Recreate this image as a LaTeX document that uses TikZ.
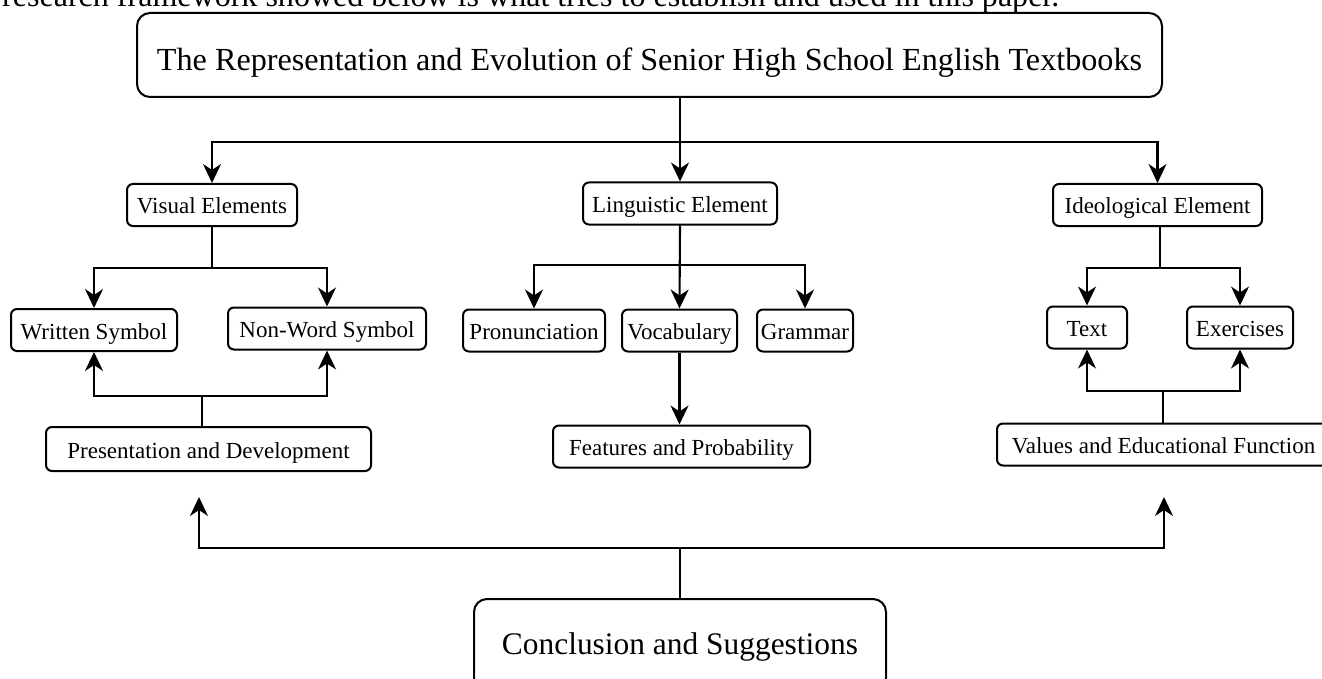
\documentclass[tikz,border=0pt]{standalone}
\usepackage{fontspec}
\setmainfont{Liberation Serif}
\usetikzlibrary{arrows.meta}
\tikzset{
  box/.style={draw, line width=2pt, rounded corners=6pt, inner sep=0pt,
    font=\fontsize{23}{27}\selectfont, minimum height=42pt,
    text height=19.5pt, text depth=1.5pt},
  bigbox/.style={draw, line width=2pt, rounded corners=13pt, inner sep=0pt},
  conn/.style={line width=2.1pt},
  arr/.style={conn, -{Stealth[length=19pt,width=18pt,inset=6pt]}},
}
\begin{document}
\begin{tikzpicture}[x=1pt,y=-1pt]
\useasboundingbox (0,0) rectangle (1322,679);
% partly visible line of running text
\node[anchor=base west, inner sep=0pt] (intro) at (2,7)
  {\resizebox{1057pt}{!}{research framework showed below is what tries to establish and used in this paper.}};
% nodes
\node[bigbox, minimum width=1025pt, minimum height=84pt, text height=32pt, text depth=0pt] (title) at (649.5,55)
  {\resizebox{985pt}{!}{The Representation and Evolution of Senior High School English Textbooks}};
\node[box, minimum width=170pt] (vis)  at (212,205)   {Visual Elements};
\node[box, minimum width=194pt] (ling) at (680,203.5) {Linguistic Element};
\node[box, minimum width=209pt] (ideo) at (1157.5,205) {Ideological Element};
\node[box, minimum width=166pt] (writ) at (94,330)    {Written Symbol};
\node[box, minimum width=198pt] (nonw) at (327,328.5) {Non-Word Symbol};
\node[box, minimum width=142pt] (pron) at (534,330.5) {Pronunciation};
\node[box, minimum width=115pt] (voc)  at (679.5,330.5) {Vocabulary};
\node[box, minimum width=96pt]  (gram) at (805,330.5) {Grammar};
\node[box, minimum width=80pt]  (txt)  at (1087,327.5) {Text};
\node[box, minimum width=106pt] (exer) at (1240,327.5) {Exercises};
\node[box, minimum width=325pt, minimum height=44pt] (pres) at (208.5,449) {Presentation and Development};
\node[box, minimum width=257pt] (feat) at (681.5,446.5) {Features and Probability};
\node[box, minimum width=333pt] (vals) at (1163.5,444.5) {Values and Educational Function};
\node[bigbox, minimum width=412pt, minimum height=92pt, text height=21pt, text depth=3pt] (conc) at (680,645)
  {\resizebox{356pt}{!}{Conclusion and Suggestions}};
% junction coordinates
\coordinate (j1) at (680,142);
\coordinate (jv) at (212,268);
\coordinate (jp) at (202,396);
\coordinate (jl) at (680,265);
\coordinate (ji) at (1160,268);
\coordinate (jx) at (1163,391);
\coordinate (jc) at (680,548);
\coordinate (ca) at (199,497);
\coordinate (cb) at (1164,497);
% title -> three elements
\draw[arr] (title.south -| ling.north) -- (ling.north);
\draw[arr] (j1) -| (vis.north);
\draw[arr] (j1) -| (ideo.north);
% visual elements
\draw[conn] (vis.south) -- (jv);
\draw[arr] (jv) -| (writ.north);
\draw[arr] (jv) -| (nonw.north);
\draw[conn] (pres.north -| jp) -- (jp);
\draw[arr] (jp) -| (writ.south);
\draw[arr] (jp) -| (nonw.south);
% linguistic element
\draw[arr] (ling.south) -- (voc.north);
\draw[arr] (jl) -| (pron.north);
\draw[arr] (jl) -| (gram.north);
\draw[arr] (voc.south) -- (voc.south |- feat.north);
% ideological element
\draw[conn] (ideo.south -| ji) -- (ji);
\draw[arr] (ji) -| (txt.north);
\draw[arr] (ji) -| (exer.north);
\draw[conn] (vals.north -| jx) -- (jx);
\draw[arr] (jx) -| (txt.south);
\draw[arr] (jx) -| (exer.south);
% conclusion
\draw[conn, line width=1.6pt] (conc.north) -- (jc);
\draw[arr, line width=1.6pt] (jc) -| (ca);
\draw[arr, line width=1.6pt] (jc) -| (cb);
\end{tikzpicture}
\end{document}
